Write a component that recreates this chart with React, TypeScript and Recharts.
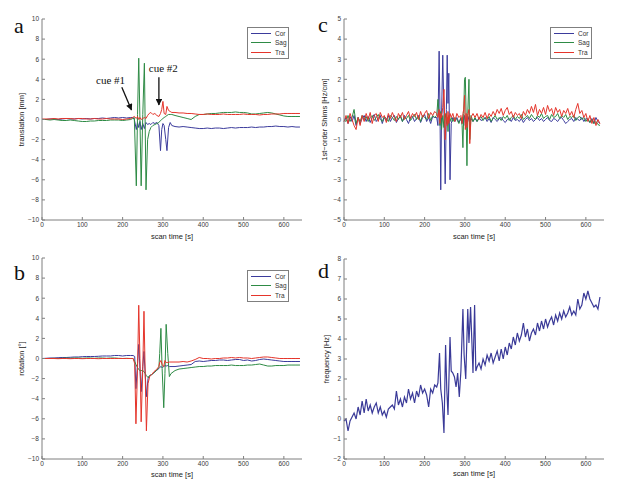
import React from "react";
import { LineChart, Line, XAxis, YAxis, ReferenceLine, ReferenceDot } from "recharts";

const COR_COLOR = "#3b3b9c";
const SAG_COLOR = "#2e8b45";
const TRA_COLOR = "#e5352b";
const FREQ_COLOR = "#3a3a98";
const AXIS = "#7f7f7f";
const SANS = "'Liberation Sans', Arial, Helvetica, sans-serif";
const SERIF = "'Liberation Serif', 'Times New Roman', serif";

const X_TICKS = [0, 100, 200, 300, 400, 500, 600];
const MOTION_TICKS = [-10, -8, -6, -4, -2, 0, 2, 4, 6, 8, 10];
const SHIM_TICKS = [-5, -4, -3, -2, -1, 0, 1, 2, 3, 4, 5];
const FREQ_TICKS = [-2, -1, 0, 1, 2, 3, 4, 5, 6, 7, 8];

// panel a: translation [mm]
const timeA = [
  0, 10, 20, 30, 40, 50, 60, 70, 80, 90, 100, 110, 120, 130, 140, 150, 160, 170, 180, 190, 200, 210, 220,
  225, 229, 234, 237, 240, 243, 246, 250, 254, 258, 262, 266, 270, 275, 280, 285, 290, 294, 297, 300, 303, 307, 310, 314, 318, 322,
  330, 340, 350, 360, 370, 380, 390, 400, 410, 420, 430, 440, 450, 460, 470, 480, 490, 500, 510, 520, 530, 540, 550, 560, 570, 580, 590, 600, 610, 620, 630, 640,
];
const corA = [
  0, 0, 0.05, 0.05, 0, 0.05, 0.1, 0.05, 0.05, 0.1, 0.05, 0.1, 0.05, 0.1, 0.1, 0.15, 0.1, 0.15, 0.2, 0.15, 0.2, 0.15, 0.2,
  0.2, 0, -1.0, -0.3, -0.8, -0.2, -1.0, -0.4, -0.9, -0.3, -0.5, -0.4, -0.5, -0.3, -0.4, -0.3, -0.6, -3.1, -1.0, -0.4, -0.6, -2.0, -3.1, -0.8, -0.3, -0.6,
  -0.7, -0.75, -0.7, -0.75, -0.8, -0.85, -0.9, -0.9, -0.85, -0.9, -0.85, -0.85, -0.9, -0.85, -0.8, -0.85, -0.8, -0.8, -0.8, -0.75, -0.8, -0.75, -0.75, -0.7, -0.7, -0.65, -0.7, -0.7, -0.75, -0.7, -0.75, -0.75,
];
const sagA = [
  0, 0, -0.05, 0, -0.05, -0.1, -0.1, -0.05, -0.1, -0.15, -0.2, -0.2, -0.15, -0.15, -0.1, -0.1, -0.1, -0.05, -0.05, -0.05, -0.1, -0.05, 0,
  0.1, 0.2, -6.6, 0.5, 6.1, 0, -6.6, 0.5, 5.6, -7.0, -2.0, -1.2, -0.8, -0.6, -0.5, -0.4, -0.3, -0.1, 0, 0.1, 0.2, 0.3, 0.4, 0.5, 0.5, 0.5,
  0.4, 0.3, 0.2, 0.1, 0, 0.3, 0.5, 0.5, 0.55, 0.6, 0.6, 0.65, 0.7, 0.7, 0.7, 0.75, 0.7, 0.7, 0.65, 0.55, 0.55, 0.6, 0.65, 0.7, 0.65, 0.55, 0.45, 0.35, 0.3, 0.3, 0.3, 0.3,
];
const traA = [
  0.05, 0.05, 0.05, 0.1, 0.05, 0.1, 0.1, 0.1, 0.05, 0.1, 0.1, 0.05, 0.05, 0.1, 0.05, 0.05, 0.1, 0.05, 0.05, 0.05, 0, 0.05, 0.1,
  0.2, 0.3, 0.1, 0.3, 0, 0.2, 0, 0.1, 0.2, 0.1, 0.4, 0.6, 0.7, 0.5, 0.6, 0.4, 0.3, 0.6, 1.0, 1.8, 0.6, 0.5, 1.3, 0.9, 0.8, 0.7,
  0.7, 0.65, 0.65, 0.6, 0.6, 0.55, 0.5, 0.5, 0.55, 0.5, 0.5, 0.5, 0.55, 0.5, 0.5, 0.5, 0.5, 0.55, 0.5, 0.5, 0.5, 0.45, 0.5, 0.5, 0.55, 0.55, 0.55, 0.6, 0.6, 0.6, 0.6, 0.6,
];

// panel b: rotation [deg]
const timeB = [
  0, 10, 20, 30, 40, 50, 60, 70, 80, 90, 100, 110, 120, 130, 140, 150, 160, 170, 180, 190, 200, 210, 220,
  226, 230, 233, 237, 240, 243, 246, 250, 253, 256, 259, 263, 267, 272, 278, 284, 290, 292, 295, 298, 302, 305, 308, 312, 316, 320,
  330, 340, 350, 360, 370, 380, 390, 400, 410, 420, 430, 440, 450, 460, 470, 480, 490, 500, 510, 520, 530, 540, 550, 560, 570, 580, 590, 600, 610, 620, 630, 640,
];
const corB = [
  0, 0.02, 0.05, 0.05, 0.08, 0.1, 0.1, 0.12, 0.15, 0.15, 0.18, 0.2, 0.2, 0.2, 0.22, 0.25, 0.25, 0.25, 0.3, 0.3, 0.25, 0.3, 0.3,
  0.3, 0.2, -3.0, -0.5, 1.4, -1.0, -3.3, -0.8, 0.7, -1.5, -3.8, -2.0, -1.7, -1.6, -1.4, -1.2, -1.0, -0.9, -0.8, -0.9, -0.8, -0.7, -0.75, -0.7, -0.8, -0.8,
  -0.8, -0.75, -0.7, -0.65, -0.6, -0.3, -0.25, -0.3, -0.25, -0.2, -0.2, -0.15, -0.15, -0.2, -0.15, -0.1, -0.1, -0.2, -0.15, -0.25, -0.2, -0.1, -0.05, -0.1, -0.15, -0.2, -0.25, -0.3, -0.3, -0.3, -0.3, -0.3,
];
const sagB = [
  0, 0, 0, 0.02, 0, 0.02, 0.05, 0.02, 0.05, 0.05, 0.02, 0.05, 0.05, 0.02, 0.05, 0.05, 0.02, 0.05, 0.05, 0.02, 0, 0.02, 0,
  0, -0.3, -0.6, -0.9, -1.1, -1.2, -1.2, -1.2, -1.3, -1.5, -1.7, -1.9, -1.7, -1.6, -1.4, -1.2, -0.9, 0.5, 3.0, -1.0, -4.9, -1.5, 3.4, 0.5, -1.8, -1.5,
  -1.2, -1.05, -1.0, -0.95, -0.9, -0.85, -0.8, -0.8, -0.75, -0.75, -0.7, -0.7, -0.7, -0.7, -0.65, -0.7, -0.7, -0.7, -0.65, -0.65, -0.6, -0.55, -0.65, -0.75, -0.75, -0.7, -0.7, -0.7, -0.65, -0.65, -0.65, -0.65,
];
const traB = [
  0, 0, 0, 0, -0.02, 0, 0, -0.02, 0, 0, -0.02, 0, 0, 0, -0.02, 0, 0, 0, 0, 0, 0, 0, 0,
  0, -0.5, -6.5, -1.0, 5.3, 0, -6.3, -1.0, 4.7, -1.5, -7.2, -2.5, -1.8, -1.6, -1.3, -1.1, -0.8, -0.4, -0.2, -0.6, -0.8, -0.2, -0.4, -0.4, -0.35, -0.35,
  -0.35, -0.35, -0.3, -0.35, -0.25, -0.1, 0.1, 0, 0, -0.05, 0, 0, 0.05, 0.05, 0.1, 0.05, 0.1, 0.05, 0.05, 0, 0.05, 0.1, 0.15, 0.15, 0.1, 0.05, 0, 0, 0, 0, 0, 0,
];

// panel c: 1st-order shims [Hz/cm]
const timeC = [
  0, 5, 10, 15, 20, 25, 30, 35, 40, 45, 50, 55, 60, 65, 70, 75, 80, 85, 90, 95, 100, 105, 110, 115, 120, 125, 130, 135, 140, 145, 150, 155, 160, 165, 170, 175, 180, 185, 190, 195, 200, 205, 210, 215, 220, 225,
  230, 233, 236, 238, 240, 242, 245, 248, 251, 254, 256, 258, 260, 263, 266, 270, 275, 280, 285, 290, 293, 295, 297, 299, 301, 303, 305, 307, 310, 312, 315, 320,
  325, 330, 335, 340, 345, 350, 355, 360, 365, 370, 375, 380, 385, 390, 395, 400, 405, 410, 415, 420, 425, 430, 435, 440, 445, 450, 455, 460, 465, 470, 475, 480, 485, 490, 495, 500, 505, 510, 515, 520, 525, 530, 535, 540, 545, 550, 555, 560, 565, 570, 575, 580, 585, 590, 595, 600, 605, 610, 615, 620, 625, 630, 635,
];
const corC = [
  -0.1, 0.1, -0.2, 0.15, -0.1, 0.2, -0.3, 0.1, -0.2, 0.05, 0.2, -0.1, 0.15, -0.15, 0.1, 0.25, -0.1, 0.05, 0.2, -0.2, 0.1, -0.05, 0.2, -0.1, 0.1, 0.2, -0.15, 0.05, 0.15, -0.1, 0.2, 0, -0.2, 0.1, 0.15, -0.1, 0.05, 0.2, -0.15, 0.1, 0.25, -0.1, 0.1, -0.2, 0.15, 0.1,
  0.1, -0.3, 3.4, 0.5, -3.5, 0.2, 3.2, 0.3, -3.2, 0.5, 3.2, 0.8, 2.3, -3.0, -0.2, 0.1, -0.1, 0.1, -0.15, 0.05, -0.2, 0.1, -0.3, 0.2, 0, -0.2, 0.1, -0.1, 0.15, -0.1, 0.05, -0.1,
  0.05, -0.1, 0.1, -0.05, 0, 0.1, -0.1, 0.05, -0.15, 0.1, 0, -0.1, 0.05, 0.1, -0.05, -0.15, 0, 0.05, -0.1, 0.1, -0.05, 0, -0.1, 0.05, -0.15, 0, 0.1, -0.05, 0.05, -0.1, 0, 0.1, -0.05, 0.05, -0.1, 0, 0.1, -0.05, -0.1, 0.05, 0, -0.1, 0.05, 0.1, -0.05, -0.2, -0.1, 0, 0.05, -0.1, 0.1, 0, -0.05, 0.1, -0.1, 0.05, 0, -0.15, 0.05, -0.2, 0.1, -0.1, -0.2,
];
const sagC = [
  0, -0.1, 0.2, -0.1, 0.1, 0.5, -0.2, 0.1, -0.1, 0.2, 0, 0.15, -0.1, 0.1, 0.2, -0.05, 0.1, 0.25, 0, -0.1, 0.15, 0.05, -0.1, 0.2, 0.1, -0.05, 0.15, 0, 0.2, -0.1, 0.1, 0.05, 0.2, -0.05, 0.1, 0.25, 0, 0.15, -0.1, 0.2, 0.1, 0, 0.3, -0.05, 0.2, 0.1,
  0.2, 1.0, 0.3, -0.3, 0.4, -0.5, 0.2, -0.4, 0.3, -0.2, 0.1, -0.6, 0.2, -0.1, 0.1, -0.1, 0.1, 0, -0.2, 0.1, -0.3, -1.4, 0.3, 2.0, 2.1, 0.2, -2.3, 0.3, 2.0, -1.0, 0.2, -0.1,
  0.1, -0.1, 0.05, 0.15, -0.05, 0.1, 0, 0.15, -0.1, 0.05, 0.2, 0, 0.1, -0.05, 0.15, 0.05, 0.2, -0.05, 0.1, 0.2, 0, 0.15, 0.05, 0.25, 0, 0.1, 0.2, 0.05, 0.25, 0.1, 0, 0.2, 0.1, 0.3, 0.05, 0.15, 0.2, 0, 0.25, 0.1, 0.15, 0.3, 0.05, 0.2, 0.1, 0.25, 0, 0.15, 0.1, 0.2, -0.05, 0.1, 0.15, 0, 0.1, -0.1, 0.05, -0.15, 0, -0.2, -0.1, -0.25, -0.3,
];
const traC = [
  -0.1, 0.2, -0.2, 0.3, 0, -0.3, -0.5, 0.1, -0.3, 0.2, -0.1, 0.3, 0, 0.35, -0.2, 0.2, 0.3, -0.1, 0.35, 0.1, 0.2, -0.15, 0.3, 0.05, 0.35, 0.1, -0.1, 0.3, 0.1, 0.35, 0, 0.2, 0.4, 0.05, 0.3, 0.15, 0.35, 0, 0.4, 0.1, 0.3, 0.45, 0.05, 0.35, 0.2, 0.4,
  0.3, 0.1, 0.5, -0.2, 0.3, 0.1, 0.6, 1.5, -1.0, 0.3, -0.3, 0.4, -0.2, 0.3, 0.1, 0.3, -0.1, 0.3, 0.1, 0.2, -0.2, 0.3, 0.5, 1.2, -0.5, 0.3, -0.4, 0.2, 0.5, -1.2, 0.1, 0.3,
  0.1, 0.3, 0, 0.25, 0.1, 0.35, 0.05, 0.3, 0.15, 0.4, 0.2, 0.5, 0.3, 0.55, 0.2, 0.45, 0.6, 0.25, 0.4, 0.1, 0.35, 0.2, 0.3, 0.05, 0.4, 0.2, 0.5, 0.3, 0.65, 0.35, 0.75, 0.2, 0.5, 0.3, 0.6, 0.25, 0.7, 0.4, 0.55, 0.2, 0.6, 0.35, 0.5, 0.15, 0.45, 0.3, 0.55, 0.2, 0.4, 0.1, 0.5, 0.8, 0.3, 0.45, 0.1, 0.3, -0.1, 0.2, -0.2, 0.1, -0.3, 0, -0.2,
];

// panel d: frequency [Hz]
const timeD = [
  0, 5, 10, 15, 20, 25, 30, 35, 40, 45, 50, 55, 60, 65, 70, 75, 80, 85, 90, 95, 100, 105, 110, 115, 120, 125, 130, 135, 140, 145, 150, 155, 160, 165, 170, 175, 180, 185, 190, 195, 200, 205, 210, 215, 220, 225, 230,
  233, 237, 240, 244, 248, 252, 255, 258, 263, 266, 270, 274, 278, 282, 286, 290, 295, 298, 302, 307, 310, 314, 317, 320, 324, 327,
  330, 335, 340, 345, 350, 355, 360, 365, 370, 375, 380, 385, 390, 395, 400, 405, 410, 415, 420, 425, 430, 435, 440, 445, 450, 455, 460, 465, 470, 475, 480, 485, 490, 495, 500, 505, 510, 515, 520, 525, 530, 535, 540, 545, 550, 555, 560, 565, 570, 575, 580, 585, 590, 595, 600, 605, 610, 615, 620, 625, 630, 635,
];
const freqD = [
  -0.1, 0, -0.6, -0.1, 0.1, 0.3, 0, 0.6, 0.2, 0.9, 0.3, 1.0, 0.4, 0.7, 0.3, 0.6, 0.8, 0.3, 0.6, 0.2, 0.4, 0.1, 0.5, 0.6, 0.7, 0.5, 1.4, 0.7, 1.0, 0.6, 1.1, 0.8, 1.5, 1.0, 1.3, 0.8, 1.4, 1.1, 1.7, 1.3, 1.5, 1.2, 0.6, 1.5, 1.3, 1.7, 1.6,
  1.8, 3.3, 1.5, 0.8, -0.7, 3.7, 1.5, 0.2, 4.1, 2.4, 2.3, 2.1, 1.6, 2.3, 1.1, 2.4, 5.5, 3.2, 2.0, 5.5, 3.8, 5.6, 4.0, 2.3, 5.7, 2.4,
  2.6, 2.8, 2.5, 3.0, 2.7, 3.2, 2.9, 3.3, 2.8, 3.1, 3.4, 2.9, 3.5, 3.0, 3.6, 3.2, 3.8, 3.5, 4.1, 3.7, 4.3, 3.9, 4.2, 4.8, 4.1, 4.5, 3.9, 4.3, 4.5, 4.2, 4.8, 4.4, 4.9, 4.5, 5.0, 4.6, 4.9, 5.1, 4.7, 5.2, 4.9, 5.3, 5.0, 5.4, 5.1, 5.3, 5.6, 5.2, 5.4, 5.2, 6.0, 5.5, 5.7, 6.3, 6.0, 6.4, 6.0, 5.8, 5.6, 5.7, 5.5, 6.1,
];

type SeriesDef = { key: string; name: string; color: string; values: number[] };

const TICK = { fontSize: 6.5, fill: "#3a3a3a", fontFamily: SANS };

function fmt(v: number) {
  return v < 0 ? `\u2212${Math.abs(v)}` : `${v}`;
}

type PanelProps = {
  left: number;
  top: number;
  height: number;
  margin: { top: number; right: number; bottom: number; left: number };
  yAxisWidth: number;
  xAxisHeight: number;
  yDomain: [number, number];
  yTicks: number[];
  yLabel: string;
  yLabelX: number;
  xLabelY: number;
  times: number[];
  series: SeriesDef[];
  strokeWidth?: number;
  children?: React.ReactNode;
};

function Panel(p: PanelProps) {
  const data = p.times.map((t, i) => {
    const row: Record<string, number> = { t };
    p.series.forEach((s) => {
      row[s.key] = s.values[i];
    });
    return row;
  });
  return (
    <div style={{ position: "absolute", left: p.left, top: p.top }}>
      <LineChart width={312} height={p.height} data={data} margin={p.margin}>
        <defs>
          <marker id="cueArrow" viewBox="0 0 10 10" refX="9" refY="5" markerWidth="6" markerHeight="5" orient="auto">
            <path d="M0,0 L10,5 L0,10 z" fill="#111" />
          </marker>
        </defs>
        <XAxis
          dataKey="t"
          type="number"
          domain={[0, 645]}
          ticks={X_TICKS}
          interval={0}
          height={p.xAxisHeight}
          tickSize={-3}
          tickMargin={5}
          stroke={AXIS}
          tick={TICK}
          label={{
            content: ({ viewBox }: any) => (
              <text x={viewBox.x + viewBox.width / 2} y={p.xLabelY} textAnchor="middle" fontSize={7.5} fill="#222" fontFamily={SANS}>
                scan time [s]
              </text>
            ),
          }}
        />
        <XAxis xAxisId="top" orientation="top" type="number" domain={[0, 645]} ticks={X_TICKS} interval={0} height={0} tickSize={-3} stroke={AXIS} tickFormatter={() => ""} />
        <YAxis
          type="number"
          domain={p.yDomain}
          ticks={p.yTicks}
          interval={0}
          width={p.yAxisWidth}
          tickSize={-3}
          tickMargin={6}
          stroke={AXIS}
          tick={TICK}
          tickFormatter={fmt}
          label={{
            content: ({ viewBox }: any) => {
              const cy = viewBox.y + viewBox.height / 2;
              return (
                <text x={p.yLabelX} y={cy} transform={`rotate(-90 ${p.yLabelX} ${cy})`} textAnchor="middle" fontSize={7.5} fill="#222" fontFamily={SANS}>
                  {p.yLabel}
                </text>
              );
            },
          }}
        />
        <YAxis yAxisId="right" orientation="right" type="number" domain={p.yDomain} ticks={p.yTicks} interval={0} width={0} tickSize={-3} stroke={AXIS} tickFormatter={() => ""} />
        {p.series.map((s) => (
          <Line key={s.key} dataKey={s.key} name={s.name} stroke={s.color} strokeWidth={p.strokeWidth ?? 1} dot={false} type="linear" isAnimationActive={false} />
        ))}
        {p.children}
      </LineChart>
    </div>
  );
}

function LegendBox({ left, top, series }: { left: number; top: number; series: SeriesDef[] }) {
  return (
    <div
      style={{
        position: "absolute",
        left,
        top,
        width: 40,
        border: `1px solid ${AXIS}`,
        background: "#fff",
        padding: "1px 0",
        fontFamily: SANS,
        fontSize: 6.5,
        color: "#333",
      }}
    >
      {series.map((s) => (
        <div key={s.key} style={{ display: "flex", alignItems: "center", height: 9.3 }}>
          <div style={{ width: 20, height: 1, background: s.color, marginLeft: 3, marginRight: 4 }} />
          <span>{s.name}</span>
        </div>
      ))}
    </div>
  );
}

function Letter({ left, top, text }: { left: number; top: number; text: string }) {
  return (
    <div style={{ position: "absolute", left, top, fontFamily: SERIF, fontSize: 22, lineHeight: "22px", color: "#111" }}>{text}</div>
  );
}

const seriesA: SeriesDef[] = [
  { key: "cor", name: "Cor", color: COR_COLOR, values: corA },
  { key: "sag", name: "Sag", color: SAG_COLOR, values: sagA },
  { key: "tra", name: "Tra", color: TRA_COLOR, values: traA },
];
const seriesB: SeriesDef[] = [
  { key: "cor", name: "Cor", color: COR_COLOR, values: corB },
  { key: "sag", name: "Sag", color: SAG_COLOR, values: sagB },
  { key: "tra", name: "Tra", color: TRA_COLOR, values: traB },
];
const seriesC: SeriesDef[] = [
  { key: "cor", name: "Cor", color: COR_COLOR, values: corC },
  { key: "sag", name: "Sag", color: SAG_COLOR, values: sagC },
  { key: "tra", name: "Tra", color: TRA_COLOR, values: traC },
];
const seriesD: SeriesDef[] = [{ key: "freq", name: "frequency", color: FREQ_COLOR, values: freqD }];

const cueText = (label: string) => ({
  content: ({ viewBox }: any) => (
    <text
      x={viewBox.x + viewBox.width / 2}
      y={viewBox.y + viewBox.height / 2}
      textAnchor="middle"
      dominantBaseline="central"
      fontSize={11}
      fontFamily={SERIF}
      fill="#111"
    >
      {label}
    </text>
  ),
});

export default function App() {
  return (
    <div style={{ position: "absolute", left: 0, top: 0, width: 624, height: 491, background: "#fff", overflow: "hidden" }}>
      <Panel
        left={0}
        top={0}
        height={245}
        margin={{ top: 19, right: 10, bottom: 0, left: 0 }}
        yAxisWidth={42}
        xAxisHeight={25}
        yDomain={[-10, 10]}
        yTicks={MOTION_TICKS}
        yLabel="translation [mm]"
        yLabelX={24}
        xLabelY={239}
        times={timeA}
        series={seriesA}
      >
        <ReferenceLine segment={[{ x: 198, y: 3.2 }, { x: 222, y: 0.95 }]} stroke="#111" strokeWidth={1.3} markerEnd="url(#cueArrow)" ifOverflow="visible" />
        <ReferenceLine segment={[{ x: 290, y: 4.2 }, { x: 290, y: 1.45 }]} stroke="#111" strokeWidth={1.3} markerEnd="url(#cueArrow)" ifOverflow="visible" />
        <ReferenceDot x={170} y={3.93} r={0} fill="none" stroke="none" label={cueText("cue #1")} />
        <ReferenceDot x={301} y={5.12} r={0} fill="none" stroke="none" label={cueText("cue #2")} />
      </Panel>
      <Panel
        left={312}
        top={0}
        height={245}
        margin={{ top: 19, right: 20, bottom: 0, left: 0 }}
        yAxisWidth={32}
        xAxisHeight={25}
        yDomain={[-5, 5]}
        yTicks={SHIM_TICKS}
        yLabel="1st−order Shims [Hz/cm]"
        yLabelX={15}
        xLabelY={239}
        times={timeC}
        series={seriesC}
      />
      <Panel
        left={0}
        top={245}
        height={246}
        margin={{ top: 13, right: 10, bottom: 0, left: 0 }}
        yAxisWidth={42}
        xAxisHeight={32}
        yDomain={[-10, 10]}
        yTicks={MOTION_TICKS}
        yLabel="rotation [°]"
        yLabelX={24}
        xLabelY={232}
        times={timeB}
        series={seriesB}
      />
      <Panel
        left={312}
        top={245}
        height={246}
        margin={{ top: 14, right: 20, bottom: 0, left: 0 }}
        yAxisWidth={32}
        xAxisHeight={32}
        yDomain={[-2, 8]}
        yTicks={FREQ_TICKS}
        yLabel="frequency [Hz]"
        yLabelX={17}
        xLabelY={231}
        times={timeD}
        series={seriesD}
        strokeWidth={1.2}
      />
      <LegendBox left={247} top={27} series={seriesA} />
      <LegendBox left={550} top={27} series={seriesC} />
      <LegendBox left={247} top={270} series={seriesB} />
      <Letter left={14} top={15} text="a" />
      <Letter left={318} top={14} text="c" />
      <Letter left={14} top={262} text="b" />
      <Letter left={318} top={260} text="d" />
    </div>
  );
}
